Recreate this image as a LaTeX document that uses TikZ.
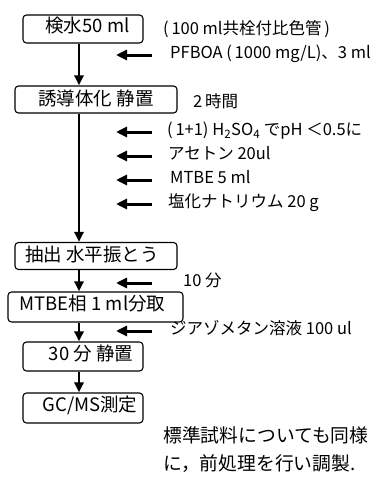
\documentclass[tikz,border=0pt]{standalone}
\usepackage{fontspec}
\setmainfont{Noto Sans CJK JP}
\usetikzlibrary{arrows.meta}
\begin{document}
\begin{tikzpicture}[x=1pt,y=-1pt,
  box/.style={draw, line width=1.1pt, rounded corners=3.5pt, inner sep=0pt,
    font=\fontsize{18.5}{20}\selectfont, text height=0.85em, text depth=0.15em},
  lowbox/.style={box, text height=1.15em, text depth=0em},
  flow/.style={-{Triangle[length=10pt,width=9pt]}, line width=2.5pt},
  side/.style={-{Triangle[length=11pt,width=10pt]}, line width=3pt},
  lbl/.style={anchor=west, inner sep=0pt, font=\fontsize{16.5}{18}\selectfont,
    text height=0.7em, text depth=0em},
  note/.style={anchor=west, inner sep=0pt, font=\fontsize{18.8}{20}\selectfont,
    text height=0.7em, text depth=0em},
]
\useasboundingbox (0,0) rectangle (374,479);

% column coordinates
\coordinate (ax) at (79,0);
\coordinate (tailcol) at (152,0);
\coordinate (tipcol) at (116,0);

% boxes
\node[box, minimum width=120pt, minimum height=28pt] (b1) at (83,29) {\hspace*{9pt}検水50 ml};
\node[lowbox, minimum width=162pt, minimum height=27pt] (b2) at (96,99.5) {誘導体化 静置};
\node[lowbox, minimum width=162pt, minimum height=27pt] (b3) at (96,256) {抽出 水平振とう\hspace*{8pt}};
\node[box, minimum width=175pt, minimum height=30pt] (b4) at (95.5,307) {MTBE相 1 ml分取\hspace*{6pt}};
\node[box, minimum width=120pt, minimum height=29pt] (b5) at (83,356.5) {\hspace*{16pt}30 分 静置};
\node[box, minimum width=120pt, minimum height=30pt] (b6) at (83,408) {\hspace*{14pt}GC/MS測定};

% main flow
\draw[flow] (b1.south -| ax) -- (b2.north -| ax);
\draw[flow] (b2.south -| ax) -- (b3.north -| ax);
\draw[flow] (b3.south -| ax) -- (b4.north -| ax);
\draw[flow] (b4.south -| ax) -- (b5.north -| ax);
\draw[flow] (b5.south -| ax) -- (b6.north -| ax);

% labels
\node[lbl] (l0) at (163,31) {(\,100 ml共栓付比色管\,)};
\node[lbl] (l1) at (170,55) {PFBOA (\,1000 mg/L)、3 ml};
\node[lbl] (l2) at (193,104) {2\,時間};
\node[lbl] (l3) at (167,132) {(\,1+1) H\textsubscript{2}SO\textsubscript{4} でpH ＜0.5に};
\node[lbl] (l4) at (168,156) {アセトン 20ul};
\node[lbl] (l5) at (170,180) {MTBE 5 ml};
\node[lbl] (l6) at (168,204) {塩化ナトリウム 20 g};
\node[lbl] (l7) at (183,283) {10 分};
\node[lbl] (l8) at (170,331) {ジアゾメタン溶液 100 ul};

% side arrows
\foreach \n in {l1,l3,l4,l5,l6,l7,l8}
  \draw[side] (\n.west -| tailcol) -- (\n.west -| tipcol);

% note
\node[note] (n1) at (163,439) {標準試料についても同様};
\node[note] (n2) at (163,467) {に，前処理を行い調製.};
\end{tikzpicture}
\end{document}
